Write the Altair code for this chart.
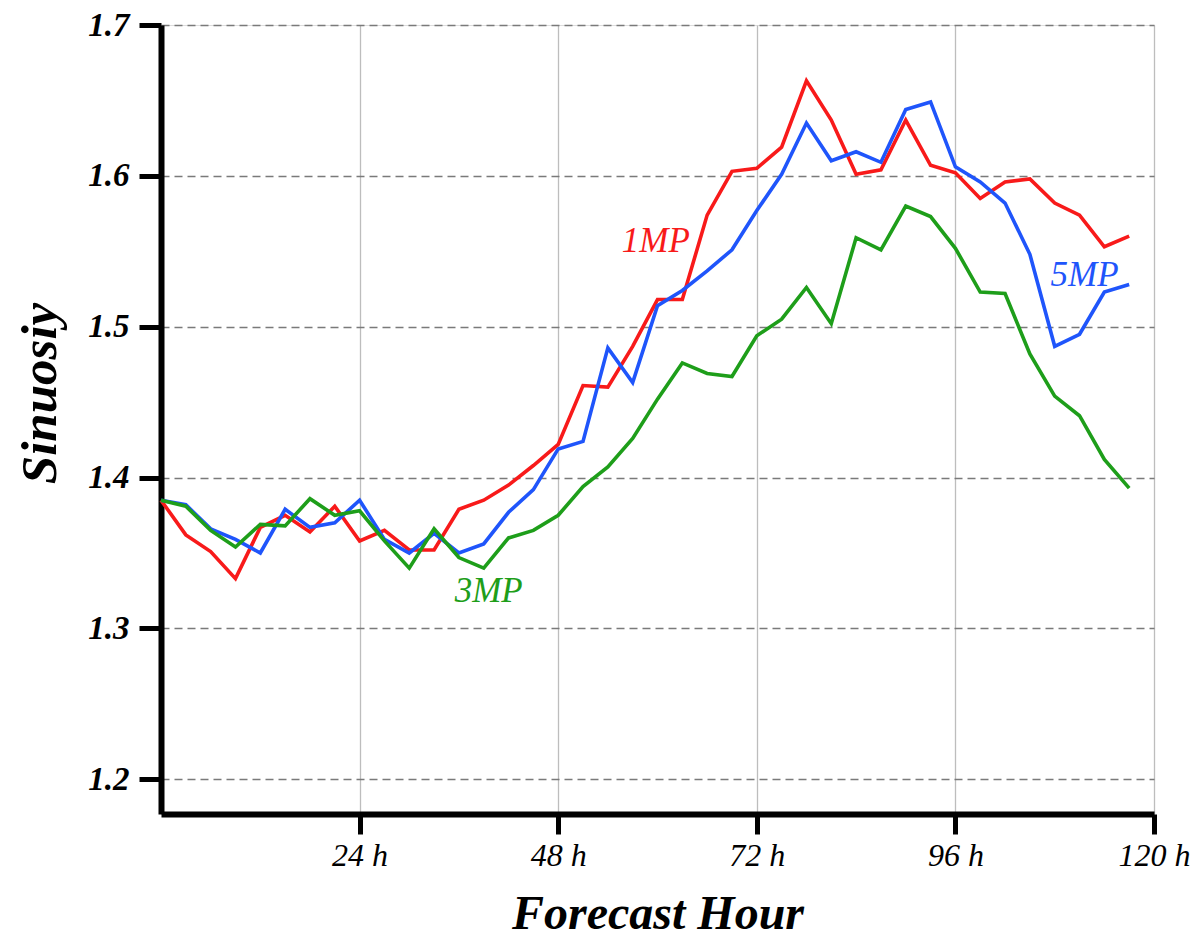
import altair as alt
import pandas as pd

hours = list(range(0, 118, 3))

mp1 = [1.385, 1.362, 1.351, 1.333, 1.367, 1.375, 1.364, 1.381, 1.358, 1.365,
       1.352, 1.352, 1.379, 1.385, 1.395, 1.408, 1.422, 1.461, 1.460, 1.487,
       1.518, 1.518, 1.574, 1.603, 1.605, 1.619, 1.663, 1.637, 1.601, 1.604,
       1.637, 1.607, 1.602, 1.585, 1.596, 1.598, 1.582, 1.574, 1.553, 1.560]

mp5 = [1.385, 1.382, 1.366, 1.359, 1.350, 1.379, 1.367, 1.370, 1.385, 1.359,
       1.350, 1.363, 1.350, 1.356, 1.377, 1.392, 1.419, 1.424, 1.486, 1.463,
       1.514, 1.524, 1.537, 1.551, 1.577, 1.601, 1.635, 1.610, 1.616, 1.609,
       1.644, 1.649, 1.606, 1.596, 1.582, 1.548, 1.487, 1.495, 1.523, 1.528]

mp3 = [1.385, 1.381, 1.365, 1.354, 1.369, 1.368, 1.386, 1.375, 1.378, 1.358,
       1.340, 1.366, 1.347, 1.340, 1.360, 1.365, 1.375, 1.394, 1.407, 1.426,
       1.452, 1.476, 1.469, 1.467, 1.494, 1.505, 1.526, 1.502, 1.559, 1.551,
       1.580, 1.573, 1.552, 1.523, 1.522, 1.482, 1.454, 1.441, 1.412, 1.393]

series_names = ["1MP", "5MP", "3MP"]
series_colors = ["#f81a1a", "#1f55fb", "#1e9e1a"]

label_names = ["1MP", "3MP", "5MP"]
label_hours = [59.8, 39.6, 111.6]
label_values = [1.5568, 1.3247, 1.5342]

y_ticks = [1.2, 1.3, 1.4, 1.5, 1.6, 1.7]
x_ticks = [24, 48, 72, 96, 120]

rows = []
for name, vals in zip(series_names, [mp1, mp5, mp3]):
    for h, v in zip(hours, vals):
        rows.append({"hour": h, "value": v, "series": name})
df = pd.DataFrame(rows)
labels_df = pd.DataFrame({"series": label_names, "hour": label_hours, "value": label_values})

FONT = "Liberation Serif"
W = 993

x_enc = alt.X("hour:Q",
              scale=alt.Scale(domain=[0, 120], nice=False, zero=False),
              axis=alt.Axis(values=x_ticks, labelExpr="datum.value + ' h'",
                            title="Forecast Hour", labelFlush=False,
                            labelFont=FONT, labelFontSize=32, labelFontStyle="italic",
                            labelColor="black", labelPadding=6,
                            tickSize=20, tickWidth=5, tickColor="black",
                            domainWidth=6, domainColor="black",
                            grid=True, gridColor="#bdbdbd", gridWidth=1.3,
                            titleFont=FONT, titleFontSize=48, titleFontStyle="italic",
                            titleFontWeight="bold", titleColor="black",
                            titleX=W / 2, titleY=114, titleBaseline="alphabetic",
                            titleAlign="center"))

y_enc = alt.Y("value:Q",
              scale=alt.Scale(domain=[1.177, 1.7], nice=False, zero=False),
              axis=alt.Axis(values=y_ticks, format=".1f",
                            title="Sinuosiy",
                            labelFont=FONT, labelFontSize=33, labelFontStyle="italic",
                            labelFontWeight="bold", labelColor="black", labelPadding=10,
                            tickSize=22, tickWidth=5, tickColor="black",
                            domainWidth=6, domainColor="black",
                            grid=True, gridColor="#7a7a7a", gridWidth=1.3, gridDash=[8, 5],
                            titleFont=FONT, titleFontSize=51, titleFontStyle="italic",
                            titleFontWeight="bold", titleColor="black",
                            titleX=-121, titleY=368, titleAngle=270,
                            titleBaseline="middle", titleAlign="center"))

color_scale = alt.Scale(domain=series_names, range=series_colors)

base = alt.Chart(df)
layers = []
for name in series_names:
    layers.append(
        base.transform_filter(alt.datum.series == name)
        .mark_line(strokeWidth=3.6)
        .encode(x=x_enc, y=y_enc,
                color=alt.Color("series:N", scale=color_scale, legend=None))
    )

text = alt.Chart(labels_df).mark_text(
    font=FONT, fontSize=35, fontStyle="italic", align="center", baseline="middle"
).encode(
    x=alt.X("hour:Q"), y=alt.Y("value:Q"), text="series:N",
    color=alt.Color("series:N", scale=color_scale, legend=None)
)

chart = alt.layer(*layers, text).properties(
    width=W, height=789,
    padding={"left": 153, "top": 17, "right": 36, "bottom": 125},
    autosize=alt.AutoSizeParams(type="none"),
).configure_view(stroke=None).configure(background="white")

chart.save("out.html", embed_options={"renderer": "svg", "actions": False})
